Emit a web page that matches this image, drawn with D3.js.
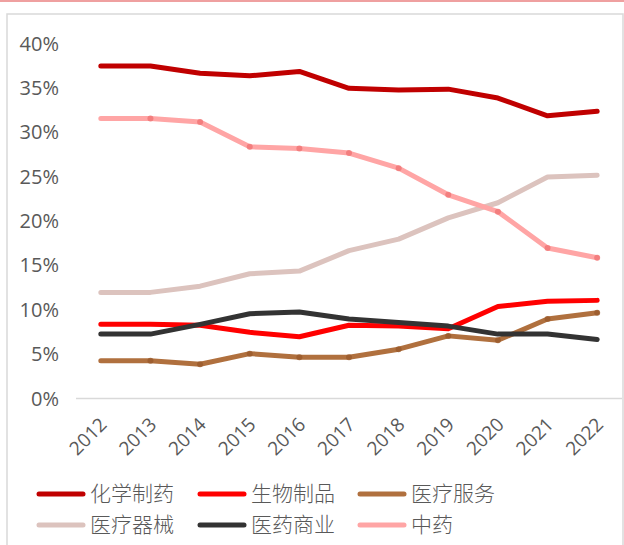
<!DOCTYPE html>
<html>
<head>
<meta charset="utf-8">
<script src="https://cdn.jsdelivr.net/npm/d3@7"></script>
<style>
  body { margin: 0; background: #fff; }
  svg { display: block; }
</style>
</head>
<body>
<div id="container"></div>
<script>
// 年份
var years = ["2012", "2013", "2014", "2015", "2016", "2017", "2018", "2019", "2020", "2021", "2022"];
// 各子行业占比 (%)
var chem = [37.4, 37.4, 36.6, 36.3, 36.8, 34.9, 34.7, 34.8, 33.8, 31.8, 32.3];
var bio = [8.3, 8.3, 8.2, 7.4, 6.9, 8.2, 8.1, 7.8, 10.3, 10.9, 11.0];
var service = [4.2, 4.2, 3.8, 5.0, 4.6, 4.6, 5.5, 7.0, 6.5, 8.9, 9.6];
var device = [11.9, 11.9, 12.6, 14.0, 14.3, 16.6, 17.9, 20.3, 22.0, 24.9, 25.1];
var commerce = [7.2, 7.2, 8.3, 9.5, 9.7, 8.9, 8.5, 8.1, 7.2, 7.2, 6.6];
var tcm = [31.5, 31.5, 31.1, 28.3, 28.1, 27.6, 25.9, 22.9, 21.0, 16.9, 15.8];
var names = ["化学制药", "生物制品", "医疗服务", "医疗器械", "医药商业", "中药"];
var yTicks = [0, 5, 10, 15, 20, 25, 30, 35, 40];

var width = 624, height = 545;

var series = [
  { name: names[0], values: chem, color: "#C00000" },
  { name: names[1], values: bio, color: "#FF0000" },
  { name: names[2], values: service, color: "#B0703E", dot: "#9A5A2C" },
  { name: names[3], values: device, color: "#DCC3BE" },
  { name: names[4], values: commerce, color: "#333333" },
  { name: names[5], values: tcm, color: "#FFA5A5", dot: "#F07474" }
];

var svg = d3.select("#container").append("svg")
  .attr("width", width)
  .attr("height", height);

// 顶部线和外框
svg.append("rect").attr("x", 0).attr("y", 0).attr("width", width).attr("height", 2)
  .attr("fill", "#EFA0A0");
svg.append("rect").attr("x", 7).attr("y", 14).attr("width", 616).attr("height", 545)
  .attr("fill", "none").attr("stroke", "#D9D9D9").attr("stroke-width", 1.5);

var x = d3.scalePoint().domain(years).range([76, 622]).padding(0.5);
var y = d3.scaleLinear().domain([0, 40]).range([398, 43]);

// y轴
var yAxis = svg.append("g")
  .attr("transform", "translate(59,0)")
  .call(d3.axisLeft(y).tickValues(yTicks).tickSize(0).tickPadding(0)
    .tickFormat(function(d) { return d + "%"; }));
yAxis.select(".domain").remove();
yAxis.selectAll("text")
  .attr("x", 0)
  .attr("dy", "0.35em")
  .attr("fill", "#595959")
  .style("font-family", "'Open Sans', sans-serif")
  .style("font-size", "20px");

// x轴
var xAxis = svg.append("g")
  .attr("transform", "translate(0,398)")
  .call(d3.axisBottom(x).tickSize(0).tickPadding(0));
xAxis.select(".domain").attr("stroke", "#D9D9D9").attr("stroke-width", 1.5)
  .attr("d", "M76,0.5H622");
xAxis.selectAll("text")
  .attr("text-anchor", "end")
  .attr("transform", "translate(2,23) rotate(-45)")
  .attr("y", 0)
  .attr("dy", "0.35em")
  .attr("fill", "#595959")
  .style("font-family", "'Open Sans', sans-serif")
  .style("font-size", "19px");

// 折线
var line = d3.line()
  .x(function(d, i) { return x(years[i]); })
  .y(function(d) { return y(d); });

var lines = svg.append("g");
series.forEach(function(s) {
  lines.append("path")
    .datum(s.values)
    .attr("d", line)
    .attr("fill", "none")
    .attr("stroke", s.color)
    .attr("stroke-width", 5)
    .attr("stroke-linecap", "round")
    .attr("stroke-linejoin", "round");
  if (s.dot) {
    lines.selectAll(null)
      .data(s.values.slice(1))
      .enter().append("circle")
      .attr("cx", function(d, i) { return x(years[i + 1]); })
      .attr("cy", function(d) { return y(d); })
      .attr("r", 3)
      .attr("fill", s.dot)
      .attr("opacity", 0.8);
  }
});

// 图例
var legendPos = [[37, 494], [198, 494], [358, 494], [37, 525], [198, 525], [358, 525]];
var legend = svg.append("g").selectAll("g")
  .data(series)
  .enter().append("g")
  .attr("transform", function(d, i) { return "translate(" + legendPos[i][0] + "," + legendPos[i][1] + ")"; });
legend.append("line")
  .attr("x1", 2).attr("x2", 46).attr("y1", 0).attr("y2", 0)
  .attr("stroke", function(d) { return d.color; })
  .attr("stroke-width", 5)
  .attr("stroke-linecap", "round");
legend.append("text")
  .attr("x", 53)
  .attr("dy", "0.35em")
  .attr("fill", "#595959")
  .style("font-family", "'Noto Sans CJK SC', sans-serif")
  .style("font-weight", 300)
  .style("font-size", "21px")
  .text(function(d) { return d.name; });
</script>
</body>
</html>
